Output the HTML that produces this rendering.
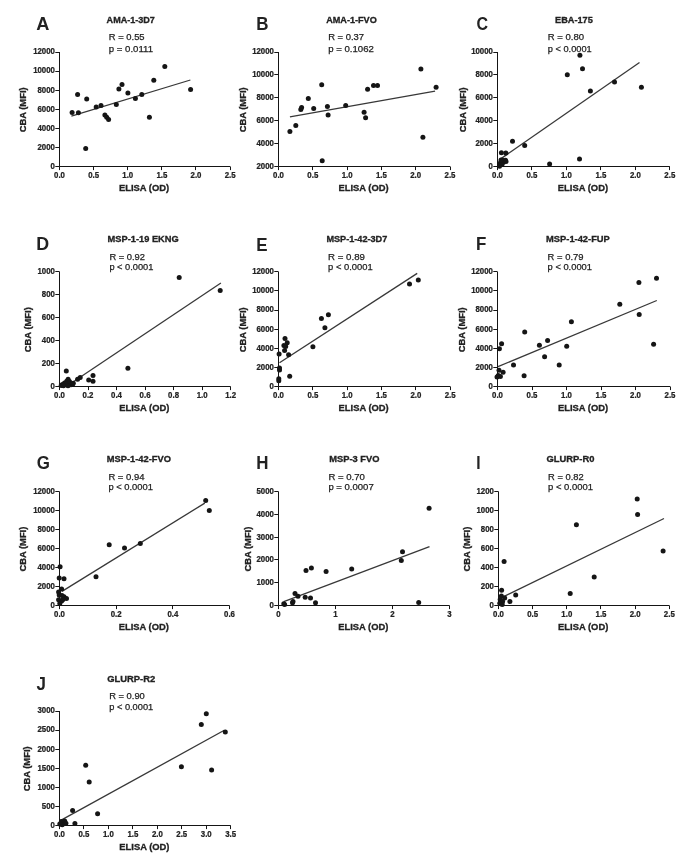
<!DOCTYPE html>
<html><head><meta charset="utf-8"><title>Figure</title>
<style>
html,body{margin:0;padding:0;background:#fff;}
body{width:685px;height:864px;overflow:hidden;}
svg{display:block;font-family:"Liberation Sans", sans-serif;will-change:transform;}
#wrap{width:685px;height:864px;}
.L{font-size:18.2px;font-weight:bold;fill:#222;}
.T{font-size:8.8px;font-weight:bold;fill:#222;stroke:#222;stroke-width:0.3px;}
.S{font-size:9.2px;fill:#222;stroke:#222;stroke-width:0.25px;}
.K{font-size:8.9px;font-weight:bold;fill:#222;stroke:#222;stroke-width:0.25px;}
.A{font-size:9.4px;font-weight:bold;fill:#222;stroke:#222;stroke-width:0.3px;}
.ax{fill:none;stroke:#151515;stroke-width:1.0;}
.rl{fill:none;stroke:#383838;stroke-width:1.3;}
.d circle{fill:#151515;}
</style></head>
<body>
<div id="wrap"><svg width="685" height="864" viewBox="0 0 685 864">
<rect width="685" height="864" fill="#fff"/>
<g><text transform="translate(36.3 30) scale(1.0 1)" class="L">A</text><text x="106.6" y="23" class="T" textLength="48.3" lengthAdjust="spacingAndGlyphs">AMA-1-3D7</text><text x="108.8" y="39.6" class="S" textLength="35.8" lengthAdjust="spacingAndGlyphs">R = 0.55</text><text x="108.8" y="51.5" class="S" textLength="44.2" lengthAdjust="spacingAndGlyphs">p = 0.0111</text><path d="M59.5 52V166.5H230.1" class="ax"/><path d="M55.3 166.5H59.5M55.3 147.5H59.5M55.3 128.5H59.5M55.3 109.5H59.5M55.3 90.5H59.5M55.3 71.5H59.5M55.3 52.5H59.5M59.5 166.5V170.1M93.5 166.5V170.1M127.5 166.5V170.1M161.5 166.5V170.1M195.5 166.5V170.1M230.5 166.5V170.1" class="ax"/><text transform="translate(54.9 168.9) scale(0.88 1)" class="K" text-anchor="end">0</text><text transform="translate(54.9 149.82) scale(0.88 1)" class="K" text-anchor="end">2000</text><text transform="translate(54.9 130.73) scale(0.88 1)" class="K" text-anchor="end">4000</text><text transform="translate(54.9 111.65) scale(0.88 1)" class="K" text-anchor="end">6000</text><text transform="translate(54.9 92.57) scale(0.88 1)" class="K" text-anchor="end">8000</text><text transform="translate(54.9 73.48) scale(0.88 1)" class="K" text-anchor="end">10000</text><text transform="translate(54.9 54.4) scale(0.88 1)" class="K" text-anchor="end">12000</text><text transform="translate(59.5 178) scale(0.88 1)" class="K" text-anchor="middle">0.0</text><text transform="translate(93.62 178) scale(0.88 1)" class="K" text-anchor="middle">0.5</text><text transform="translate(127.74 178) scale(0.88 1)" class="K" text-anchor="middle">1.0</text><text transform="translate(161.86 178) scale(0.88 1)" class="K" text-anchor="middle">1.5</text><text transform="translate(195.98 178) scale(0.88 1)" class="K" text-anchor="middle">2.0</text><text transform="translate(230.1 178) scale(0.88 1)" class="K" text-anchor="middle">2.5</text><text x="144.1" y="190.5" class="A" text-anchor="middle">ELISA (OD)</text><text transform="translate(26.4 109.85) rotate(-90)" class="A" text-anchor="middle">CBA (MFI)</text><path d="M71.4 116.1L190.4 80" class="rl"/><g class="d"><circle cx="72.1" cy="112.4" r="2.5"/><circle cx="77.6" cy="94.4" r="2.5"/><circle cx="78.4" cy="112.8" r="2.5"/><circle cx="86.7" cy="99" r="2.5"/><circle cx="85.7" cy="148.5" r="2.5"/><circle cx="96.2" cy="106.9" r="2.5"/><circle cx="101" cy="105.4" r="2.5"/><circle cx="104.9" cy="115" r="2.5"/><circle cx="106.7" cy="117.2" r="2.5"/><circle cx="108.6" cy="119.4" r="2.5"/><circle cx="116.3" cy="104.5" r="2.5"/><circle cx="118.9" cy="89" r="2.5"/><circle cx="122" cy="84.6" r="2.5"/><circle cx="127.9" cy="93.1" r="2.5"/><circle cx="135.4" cy="98.6" r="2.5"/><circle cx="141.8" cy="94.6" r="2.5"/><circle cx="149.4" cy="117.2" r="2.5"/><circle cx="153.8" cy="80.3" r="2.5"/><circle cx="164.8" cy="66.6" r="2.5"/><circle cx="190.6" cy="89.5" r="2.5"/></g></g>
<g><text transform="translate(256.32 29.8) scale(0.93 1)" class="L">B</text><text x="326.2" y="23.4" class="T" textLength="50.6" lengthAdjust="spacingAndGlyphs">AMA-1-FVO</text><text x="328.2" y="39.8" class="S" textLength="35.9" lengthAdjust="spacingAndGlyphs">R = 0.37</text><text x="328.2" y="51.6" class="S" textLength="45.7" lengthAdjust="spacingAndGlyphs">p = 0.1062</text><path d="M278.5 52V166.5H450" class="ax"/><path d="M274.3 166.5H278.5M274.3 143.5H278.5M274.3 120.5H278.5M274.3 97.5H278.5M274.3 74.5H278.5M274.3 52.5H278.5M278.5 166.5V170.1M312.5 166.5V170.1M347.5 166.5V170.1M381.5 166.5V170.1M415.5 166.5V170.1M450.5 166.5V170.1" class="ax"/><text transform="translate(273.9 168.9) scale(0.88 1)" class="K" text-anchor="end">2000</text><text transform="translate(273.9 146) scale(0.88 1)" class="K" text-anchor="end">4000</text><text transform="translate(273.9 123.1) scale(0.88 1)" class="K" text-anchor="end">6000</text><text transform="translate(273.9 100.2) scale(0.88 1)" class="K" text-anchor="end">8000</text><text transform="translate(273.9 77.3) scale(0.88 1)" class="K" text-anchor="end">10000</text><text transform="translate(273.9 54.4) scale(0.88 1)" class="K" text-anchor="end">12000</text><text transform="translate(278.5 178) scale(0.88 1)" class="K" text-anchor="middle">0.0</text><text transform="translate(312.8 178) scale(0.88 1)" class="K" text-anchor="middle">0.5</text><text transform="translate(347.1 178) scale(0.88 1)" class="K" text-anchor="middle">1.0</text><text transform="translate(381.4 178) scale(0.88 1)" class="K" text-anchor="middle">1.5</text><text transform="translate(415.7 178) scale(0.88 1)" class="K" text-anchor="middle">2.0</text><text transform="translate(450 178) scale(0.88 1)" class="K" text-anchor="middle">2.5</text><text x="363.55" y="190.5" class="A" text-anchor="middle">ELISA (OD)</text><text transform="translate(245.8 109.85) rotate(-90)" class="A" text-anchor="middle">CBA (MFI)</text><path d="M289.9 116.8L435.1 91.2" class="rl"/><g class="d"><circle cx="289.9" cy="131.4" r="2.5"/><circle cx="295.8" cy="125.5" r="2.5"/><circle cx="300.8" cy="109.4" r="2.5"/><circle cx="301.6" cy="107.4" r="2.5"/><circle cx="308.3" cy="98.4" r="2.5"/><circle cx="313.7" cy="108.4" r="2.5"/><circle cx="321.7" cy="84.8" r="2.5"/><circle cx="322.2" cy="160.7" r="2.5"/><circle cx="327.4" cy="106.4" r="2.5"/><circle cx="328.1" cy="115.1" r="2.5"/><circle cx="345.7" cy="105.6" r="2.5"/><circle cx="364.1" cy="112.3" r="2.5"/><circle cx="365.6" cy="117.8" r="2.5"/><circle cx="367.6" cy="89.3" r="2.5"/><circle cx="373.5" cy="85.5" r="2.5"/><circle cx="377.5" cy="85.5" r="2.5"/><circle cx="420.9" cy="69.1" r="2.5"/><circle cx="422.9" cy="137.2" r="2.5"/><circle cx="436.1" cy="87.3" r="2.5"/></g></g>
<g><text transform="translate(476.39 29.6) scale(0.88 1)" class="L">C</text><text x="555" y="23.4" class="T" textLength="37.8" lengthAdjust="spacingAndGlyphs">EBA-175</text><text x="547.8" y="39.8" class="S" textLength="36.3" lengthAdjust="spacingAndGlyphs">R = 0.80</text><text x="547.8" y="51.6" class="S" textLength="43.9" lengthAdjust="spacingAndGlyphs">p &lt; 0.0001</text><path d="M497.5 52V166.5H669.8" class="ax"/><path d="M493.3 166.5H497.5M493.3 143.5H497.5M493.3 120.5H497.5M493.3 97.5H497.5M493.3 74.5H497.5M493.3 52.5H497.5M497.5 166.5V170.1M531.5 166.5V170.1M566.5 166.5V170.1M600.5 166.5V170.1M635.5 166.5V170.1M669.5 166.5V170.1" class="ax"/><text transform="translate(492.9 168.9) scale(0.88 1)" class="K" text-anchor="end">0</text><text transform="translate(492.9 146) scale(0.88 1)" class="K" text-anchor="end">2000</text><text transform="translate(492.9 123.1) scale(0.88 1)" class="K" text-anchor="end">4000</text><text transform="translate(492.9 100.2) scale(0.88 1)" class="K" text-anchor="end">6000</text><text transform="translate(492.9 77.3) scale(0.88 1)" class="K" text-anchor="end">8000</text><text transform="translate(492.9 54.4) scale(0.88 1)" class="K" text-anchor="end">10000</text><text transform="translate(497.5 178) scale(0.88 1)" class="K" text-anchor="middle">0.0</text><text transform="translate(531.96 178) scale(0.88 1)" class="K" text-anchor="middle">0.5</text><text transform="translate(566.42 178) scale(0.88 1)" class="K" text-anchor="middle">1.0</text><text transform="translate(600.88 178) scale(0.88 1)" class="K" text-anchor="middle">1.5</text><text transform="translate(635.34 178) scale(0.88 1)" class="K" text-anchor="middle">2.0</text><text transform="translate(669.8 178) scale(0.88 1)" class="K" text-anchor="middle">2.5</text><text x="582.95" y="190.5" class="A" text-anchor="middle">ELISA (OD)</text><text transform="translate(465.6 109.85) rotate(-90)" class="A" text-anchor="middle">CBA (MFI)</text><path d="M501 158.6L639.5 62.5" class="rl"/><g class="d"><circle cx="579.9" cy="55.3" r="2.5"/><circle cx="582.5" cy="68.8" r="2.5"/><circle cx="567.3" cy="74.7" r="2.5"/><circle cx="614.5" cy="81.9" r="2.5"/><circle cx="641.4" cy="87.3" r="2.5"/><circle cx="590.4" cy="91" r="2.5"/><circle cx="512.5" cy="141.2" r="2.5"/><circle cx="524.7" cy="145.5" r="2.5"/><circle cx="501.4" cy="152.8" r="2.5"/><circle cx="505.8" cy="153.1" r="2.5"/><circle cx="579.5" cy="159" r="2.5"/><circle cx="549.6" cy="163.9" r="2.5"/><circle cx="502.5" cy="160.3" r="2.5"/><circle cx="505.5" cy="160.3" r="2.5"/><circle cx="500.5" cy="162.5" r="2.5"/><circle cx="503.5" cy="162.3" r="2.5"/><circle cx="499.8" cy="164.8" r="2.5"/><circle cx="502" cy="164.5" r="2.5"/><circle cx="499.5" cy="166.2" r="2.5"/><circle cx="501" cy="160" r="2.5"/><circle cx="506" cy="161.5" r="2.5"/></g></g>
<g><text transform="translate(36.26 250) scale(0.98 1)" class="L">D</text><text x="107.6" y="241.9" class="T" textLength="71.1" lengthAdjust="spacingAndGlyphs">MSP-1-19 EKNG</text><text x="109.4" y="259.6" class="S" textLength="35.6" lengthAdjust="spacingAndGlyphs">R = 0.92</text><text x="109.4" y="270.1" class="S" textLength="44" lengthAdjust="spacingAndGlyphs">p &lt; 0.0001</text><path d="M59.5 271.7V386.5H230.6" class="ax"/><path d="M55.3 386.5H59.5M55.3 363.5H59.5M55.3 340.5H59.5M55.3 317.5H59.5M55.3 294.5H59.5M55.3 271.5H59.5M59.5 386.5V390.1M88.5 386.5V390.1M116.5 386.5V390.1M145.5 386.5V390.1M173.5 386.5V390.1M202.5 386.5V390.1M230.5 386.5V390.1" class="ax"/><text transform="translate(54.9 388.9) scale(0.88 1)" class="K" text-anchor="end">0</text><text transform="translate(54.9 365.94) scale(0.88 1)" class="K" text-anchor="end">200</text><text transform="translate(54.9 342.98) scale(0.88 1)" class="K" text-anchor="end">400</text><text transform="translate(54.9 320.02) scale(0.88 1)" class="K" text-anchor="end">600</text><text transform="translate(54.9 297.06) scale(0.88 1)" class="K" text-anchor="end">800</text><text transform="translate(54.9 274.1) scale(0.88 1)" class="K" text-anchor="end">1000</text><text transform="translate(59.5 398) scale(0.88 1)" class="K" text-anchor="middle">0.0</text><text transform="translate(88.02 398) scale(0.88 1)" class="K" text-anchor="middle">0.2</text><text transform="translate(116.53 398) scale(0.88 1)" class="K" text-anchor="middle">0.4</text><text transform="translate(145.05 398) scale(0.88 1)" class="K" text-anchor="middle">0.6</text><text transform="translate(173.57 398) scale(0.88 1)" class="K" text-anchor="middle">0.8</text><text transform="translate(202.08 398) scale(0.88 1)" class="K" text-anchor="middle">1.0</text><text transform="translate(230.6 398) scale(0.88 1)" class="K" text-anchor="middle">1.2</text><text x="144.35" y="410.5" class="A" text-anchor="middle">ELISA (OD)</text><text transform="translate(30.7 329.7) rotate(-90)" class="A" text-anchor="middle">CBA (MFI)</text><path d="M67 386L220.9 283" class="rl"/><g class="d"><circle cx="179.2" cy="277.4" r="2.5"/><circle cx="220.2" cy="290.5" r="2.5"/><circle cx="127.9" cy="368.2" r="2.5"/><circle cx="66.3" cy="371.1" r="2.5"/><circle cx="93" cy="375.5" r="2.5"/><circle cx="80.2" cy="377.5" r="2.5"/><circle cx="77.6" cy="379.3" r="2.5"/><circle cx="88.7" cy="380.1" r="2.5"/><circle cx="93" cy="381.2" r="2.5"/><circle cx="68.1" cy="379.3" r="2.5"/><circle cx="66.7" cy="381.2" r="2.5"/><circle cx="64.5" cy="383" r="2.5"/><circle cx="62.3" cy="384.5" r="2.5"/><circle cx="69.6" cy="383.4" r="2.5"/><circle cx="72.5" cy="384.5" r="2.5"/><circle cx="61.2" cy="385.5" r="2.5"/><circle cx="66.5" cy="383.5" r="2.5"/><circle cx="69.5" cy="381.5" r="2.5"/><circle cx="71" cy="384.8" r="2.5"/><circle cx="63.5" cy="385.8" r="2.5"/><circle cx="68" cy="385.8" r="2.5"/><circle cx="73.3" cy="383.3" r="2.5"/></g></g>
<g><text transform="translate(256.32 250.9) scale(0.93 1)" class="L">E</text><text x="326.4" y="241.9" class="T" textLength="60.9" lengthAdjust="spacingAndGlyphs">MSP-1-42-3D7</text><text x="328.1" y="259.8" class="S" textLength="36.8" lengthAdjust="spacingAndGlyphs">R = 0.89</text><text x="328.1" y="270.1" class="S" textLength="44.6" lengthAdjust="spacingAndGlyphs">p &lt; 0.0001</text><path d="M278.5 271.8V386.5H450.2" class="ax"/><path d="M274.3 386.5H278.5M274.3 367.5H278.5M274.3 348.5H278.5M274.3 329.5H278.5M274.3 310.5H278.5M274.3 290.5H278.5M274.3 271.5H278.5M278.5 386.5V390.1M312.5 386.5V390.1M347.5 386.5V390.1M381.5 386.5V390.1M415.5 386.5V390.1M450.5 386.5V390.1" class="ax"/><text transform="translate(273.9 388.9) scale(0.88 1)" class="K" text-anchor="end">0</text><text transform="translate(273.9 369.78) scale(0.88 1)" class="K" text-anchor="end">2000</text><text transform="translate(273.9 350.67) scale(0.88 1)" class="K" text-anchor="end">4000</text><text transform="translate(273.9 331.55) scale(0.88 1)" class="K" text-anchor="end">6000</text><text transform="translate(273.9 312.43) scale(0.88 1)" class="K" text-anchor="end">8000</text><text transform="translate(273.9 293.32) scale(0.88 1)" class="K" text-anchor="end">10000</text><text transform="translate(273.9 274.2) scale(0.88 1)" class="K" text-anchor="end">12000</text><text transform="translate(278.5 398) scale(0.88 1)" class="K" text-anchor="middle">0.0</text><text transform="translate(312.84 398) scale(0.88 1)" class="K" text-anchor="middle">0.5</text><text transform="translate(347.18 398) scale(0.88 1)" class="K" text-anchor="middle">1.0</text><text transform="translate(381.52 398) scale(0.88 1)" class="K" text-anchor="middle">1.5</text><text transform="translate(415.86 398) scale(0.88 1)" class="K" text-anchor="middle">2.0</text><text transform="translate(450.2 398) scale(0.88 1)" class="K" text-anchor="middle">2.5</text><text x="363.65" y="410.5" class="A" text-anchor="middle">ELISA (OD)</text><text transform="translate(245.8 329.75) rotate(-90)" class="A" text-anchor="middle">CBA (MFI)</text><path d="M279.5 362.8L417.2 273.4" class="rl"/><g class="d"><circle cx="418.3" cy="280" r="2.5"/><circle cx="409.5" cy="283.9" r="2.5"/><circle cx="328.4" cy="314.8" r="2.5"/><circle cx="321.4" cy="318.5" r="2.5"/><circle cx="324.9" cy="327.8" r="2.5"/><circle cx="312.9" cy="346.7" r="2.5"/><circle cx="285" cy="338.4" r="2.5"/><circle cx="287.2" cy="342.8" r="2.5"/><circle cx="283.9" cy="345.5" r="2.5"/><circle cx="285.7" cy="346.4" r="2.5"/><circle cx="284.6" cy="350.6" r="2.5"/><circle cx="279.1" cy="354.1" r="2.5"/><circle cx="288.6" cy="354.8" r="2.5"/><circle cx="279.5" cy="368" r="2.5"/><circle cx="279.5" cy="370.1" r="2.5"/><circle cx="289.7" cy="376.2" r="2.5"/><circle cx="278.8" cy="378.8" r="2.5"/><circle cx="278.8" cy="380.7" r="2.5"/></g></g>
<g><text transform="translate(476.12 250) scale(0.93 1)" class="L">F</text><text x="546.1" y="241.9" class="T" textLength="63.7" lengthAdjust="spacingAndGlyphs">MSP-1-42-FUP</text><text x="547.6" y="259.8" class="S" textLength="35.9" lengthAdjust="spacingAndGlyphs">R = 0.79</text><text x="547.6" y="270.1" class="S" textLength="44.4" lengthAdjust="spacingAndGlyphs">p &lt; 0.0001</text><path d="M497.5 271.8V386.5H670" class="ax"/><path d="M493.3 386.5H497.5M493.3 367.5H497.5M493.3 348.5H497.5M493.3 329.5H497.5M493.3 310.5H497.5M493.3 290.5H497.5M493.3 271.5H497.5M497.5 386.5V390.1M532.5 386.5V390.1M566.5 386.5V390.1M601.5 386.5V390.1M635.5 386.5V390.1M670.5 386.5V390.1" class="ax"/><text transform="translate(492.9 388.9) scale(0.88 1)" class="K" text-anchor="end">0</text><text transform="translate(492.9 369.78) scale(0.88 1)" class="K" text-anchor="end">2000</text><text transform="translate(492.9 350.67) scale(0.88 1)" class="K" text-anchor="end">4000</text><text transform="translate(492.9 331.55) scale(0.88 1)" class="K" text-anchor="end">6000</text><text transform="translate(492.9 312.43) scale(0.88 1)" class="K" text-anchor="end">8000</text><text transform="translate(492.9 293.32) scale(0.88 1)" class="K" text-anchor="end">10000</text><text transform="translate(492.9 274.2) scale(0.88 1)" class="K" text-anchor="end">12000</text><text transform="translate(497.5 398) scale(0.88 1)" class="K" text-anchor="middle">0.0</text><text transform="translate(532 398) scale(0.88 1)" class="K" text-anchor="middle">0.5</text><text transform="translate(566.5 398) scale(0.88 1)" class="K" text-anchor="middle">1.0</text><text transform="translate(601 398) scale(0.88 1)" class="K" text-anchor="middle">1.5</text><text transform="translate(635.5 398) scale(0.88 1)" class="K" text-anchor="middle">2.0</text><text transform="translate(670 398) scale(0.88 1)" class="K" text-anchor="middle">2.5</text><text x="583.05" y="410.5" class="A" text-anchor="middle">ELISA (OD)</text><text transform="translate(465 329.75) rotate(-90)" class="A" text-anchor="middle">CBA (MFI)</text><path d="M498 366.6L656.8 300.5" class="rl"/><g class="d"><circle cx="656.5" cy="278.2" r="2.5"/><circle cx="638.9" cy="282.4" r="2.5"/><circle cx="619.8" cy="304.2" r="2.5"/><circle cx="639.2" cy="314.4" r="2.5"/><circle cx="571.4" cy="321.8" r="2.5"/><circle cx="524.7" cy="332" r="2.5"/><circle cx="547.6" cy="340.5" r="2.5"/><circle cx="539.4" cy="345.2" r="2.5"/><circle cx="566.7" cy="346.2" r="2.5"/><circle cx="653.6" cy="344.2" r="2.5"/><circle cx="501.6" cy="343.7" r="2.5"/><circle cx="499.4" cy="348.7" r="2.5"/><circle cx="544.6" cy="356.8" r="2.5"/><circle cx="513.5" cy="364.9" r="2.5"/><circle cx="559.2" cy="365" r="2.5"/><circle cx="499" cy="370.2" r="2.5"/><circle cx="503.1" cy="372.3" r="2.5"/><circle cx="498.3" cy="375.4" r="2.5"/><circle cx="500.4" cy="376.5" r="2.5"/><circle cx="497" cy="376.9" r="2.5"/><circle cx="524.1" cy="375.8" r="2.5"/></g></g>
<g><text transform="translate(36.76 468.9) scale(0.93 1)" class="L">G</text><text x="106.8" y="461.9" class="T" textLength="64.1" lengthAdjust="spacingAndGlyphs">MSP-1-42-FVO</text><text x="108.4" y="479.8" class="S" textLength="36.1" lengthAdjust="spacingAndGlyphs">R = 0.94</text><text x="108.4" y="490.3" class="S" textLength="44.6" lengthAdjust="spacingAndGlyphs">p &lt; 0.0001</text><path d="M59.5 491.6V605.5H229.5" class="ax"/><path d="M55.3 605.5H59.5M55.3 586.5H59.5M55.3 567.5H59.5M55.3 548.5H59.5M55.3 529.5H59.5M55.3 510.5H59.5M55.3 491.5H59.5M59.5 605.5V609.1M116.5 605.5V609.1M172.5 605.5V609.1M229.5 605.5V609.1" class="ax"/><text transform="translate(54.9 607.9) scale(0.88 1)" class="K" text-anchor="end">0</text><text transform="translate(54.9 588.92) scale(0.88 1)" class="K" text-anchor="end">2000</text><text transform="translate(54.9 569.93) scale(0.88 1)" class="K" text-anchor="end">4000</text><text transform="translate(54.9 550.95) scale(0.88 1)" class="K" text-anchor="end">6000</text><text transform="translate(54.9 531.97) scale(0.88 1)" class="K" text-anchor="end">8000</text><text transform="translate(54.9 512.98) scale(0.88 1)" class="K" text-anchor="end">10000</text><text transform="translate(54.9 494) scale(0.88 1)" class="K" text-anchor="end">12000</text><text transform="translate(59.5 617) scale(0.88 1)" class="K" text-anchor="middle">0.0</text><text transform="translate(116.17 617) scale(0.88 1)" class="K" text-anchor="middle">0.2</text><text transform="translate(172.83 617) scale(0.88 1)" class="K" text-anchor="middle">0.4</text><text transform="translate(229.5 617) scale(0.88 1)" class="K" text-anchor="middle">0.6</text><text x="143.8" y="629.5" class="A" text-anchor="middle">ELISA (OD)</text><text transform="translate(26.4 549.15) rotate(-90)" class="A" text-anchor="middle">CBA (MFI)</text><path d="M62 591.4L204.8 503.1" class="rl"/><g class="d"><circle cx="205.7" cy="500.4" r="2.5"/><circle cx="209.3" cy="510.5" r="2.5"/><circle cx="140.3" cy="543.6" r="2.5"/><circle cx="124.5" cy="547.9" r="2.5"/><circle cx="109.2" cy="544.8" r="2.5"/><circle cx="96" cy="576.8" r="2.5"/><circle cx="60.1" cy="566.7" r="2.5"/><circle cx="59.2" cy="578.1" r="2.5"/><circle cx="64" cy="578.7" r="2.5"/><circle cx="61.6" cy="588.9" r="2.5"/><circle cx="58.6" cy="591.9" r="2.5"/><circle cx="59.2" cy="594.9" r="2.5"/><circle cx="64" cy="596.7" r="2.5"/><circle cx="66.5" cy="598.6" r="2.5"/><circle cx="58.6" cy="599.8" r="2.5"/><circle cx="61.6" cy="601" r="2.5"/><circle cx="59.8" cy="603.4" r="2.5"/><circle cx="62" cy="595.5" r="2.5"/><circle cx="63" cy="599.5" r="2.5"/></g></g>
<g><text transform="translate(256.32 469.1) scale(0.93 1)" class="L">H</text><text x="329.3" y="461.9" class="T" textLength="50.2" lengthAdjust="spacingAndGlyphs">MSP-3 FVO</text><text x="328.4" y="479.8" class="S" textLength="36.5" lengthAdjust="spacingAndGlyphs">R = 0.70</text><text x="328.4" y="490.3" class="S" textLength="45.3" lengthAdjust="spacingAndGlyphs">p = 0.0007</text><path d="M278.5 491.6V605.5H449.5" class="ax"/><path d="M274.3 605.5H278.5M274.3 582.5H278.5M274.3 559.5H278.5M274.3 537.5H278.5M274.3 514.5H278.5M274.3 491.5H278.5M278.5 605.5V609.1M335.5 605.5V609.1M392.5 605.5V609.1M449.5 605.5V609.1" class="ax"/><text transform="translate(273.9 607.9) scale(0.88 1)" class="K" text-anchor="end">0</text><text transform="translate(273.9 585.12) scale(0.88 1)" class="K" text-anchor="end">1000</text><text transform="translate(273.9 562.34) scale(0.88 1)" class="K" text-anchor="end">2000</text><text transform="translate(273.9 539.56) scale(0.88 1)" class="K" text-anchor="end">3000</text><text transform="translate(273.9 516.78) scale(0.88 1)" class="K" text-anchor="end">4000</text><text transform="translate(273.9 494) scale(0.88 1)" class="K" text-anchor="end">5000</text><text transform="translate(278.5 617) scale(0.88 1)" class="K" text-anchor="middle">0</text><text transform="translate(335.5 617) scale(0.88 1)" class="K" text-anchor="middle">1</text><text transform="translate(392.5 617) scale(0.88 1)" class="K" text-anchor="middle">2</text><text transform="translate(449.5 617) scale(0.88 1)" class="K" text-anchor="middle">3</text><text x="363.3" y="629.5" class="A" text-anchor="middle">ELISA (OD)</text><text transform="translate(250.6 549.15) rotate(-90)" class="A" text-anchor="middle">CBA (MFI)</text><path d="M283.8 601.7L429.5 546.7" class="rl"/><g class="d"><circle cx="429.1" cy="508.3" r="2.5"/><circle cx="402.5" cy="551.8" r="2.5"/><circle cx="401.3" cy="560.5" r="2.5"/><circle cx="351.7" cy="569.1" r="2.5"/><circle cx="326.1" cy="571.4" r="2.5"/><circle cx="311.4" cy="568.1" r="2.5"/><circle cx="306" cy="570.6" r="2.5"/><circle cx="295" cy="593.6" r="2.5"/><circle cx="298" cy="596.3" r="2.5"/><circle cx="305.2" cy="597.3" r="2.5"/><circle cx="310.5" cy="598" r="2.5"/><circle cx="293" cy="601.5" r="2.5"/><circle cx="292.5" cy="602.8" r="2.5"/><circle cx="315.5" cy="602.8" r="2.5"/><circle cx="283.8" cy="603.7" r="2.5"/><circle cx="284.6" cy="604.6" r="2.5"/><circle cx="418.7" cy="602.6" r="2.5"/></g></g>
<g><text transform="translate(476.22 469.1) scale(0.85 1)" class="L">I</text><text x="546.4" y="461.9" class="T" textLength="48" lengthAdjust="spacingAndGlyphs">GLURP-R0</text><text x="548.1" y="479.8" class="S" textLength="35.6" lengthAdjust="spacingAndGlyphs">R = 0.82</text><text x="548.1" y="490.3" class="S" textLength="44.9" lengthAdjust="spacingAndGlyphs">p &lt; 0.0001</text><path d="M498.5 491.6V605.5H669.3" class="ax"/><path d="M494.3 605.5H498.5M494.3 586.5H498.5M494.3 567.5H498.5M494.3 548.5H498.5M494.3 529.5H498.5M494.3 510.5H498.5M494.3 491.5H498.5M498.5 605.5V609.1M532.5 605.5V609.1M566.5 605.5V609.1M600.5 605.5V609.1M635.5 605.5V609.1M669.5 605.5V609.1" class="ax"/><text transform="translate(493.9 607.9) scale(0.88 1)" class="K" text-anchor="end">0</text><text transform="translate(493.9 588.92) scale(0.88 1)" class="K" text-anchor="end">200</text><text transform="translate(493.9 569.93) scale(0.88 1)" class="K" text-anchor="end">400</text><text transform="translate(493.9 550.95) scale(0.88 1)" class="K" text-anchor="end">600</text><text transform="translate(493.9 531.97) scale(0.88 1)" class="K" text-anchor="end">800</text><text transform="translate(493.9 512.98) scale(0.88 1)" class="K" text-anchor="end">1000</text><text transform="translate(493.9 494) scale(0.88 1)" class="K" text-anchor="end">1200</text><text transform="translate(498.5 617) scale(0.88 1)" class="K" text-anchor="middle">0.0</text><text transform="translate(532.66 617) scale(0.88 1)" class="K" text-anchor="middle">0.5</text><text transform="translate(566.82 617) scale(0.88 1)" class="K" text-anchor="middle">1.0</text><text transform="translate(600.98 617) scale(0.88 1)" class="K" text-anchor="middle">1.5</text><text transform="translate(635.14 617) scale(0.88 1)" class="K" text-anchor="middle">2.0</text><text transform="translate(669.3 617) scale(0.88 1)" class="K" text-anchor="middle">2.5</text><text x="583.2" y="629.5" class="A" text-anchor="middle">ELISA (OD)</text><text transform="translate(470.2 549.15) rotate(-90)" class="A" text-anchor="middle">CBA (MFI)</text><path d="M500 598.4L664 518.5" class="rl"/><g class="d"><circle cx="637.2" cy="499.1" r="2.5"/><circle cx="637.6" cy="514.4" r="2.5"/><circle cx="576.4" cy="524.7" r="2.5"/><circle cx="504.1" cy="561.4" r="2.5"/><circle cx="594.2" cy="577.1" r="2.5"/><circle cx="570.2" cy="593.5" r="2.5"/><circle cx="515.7" cy="595.1" r="2.5"/><circle cx="509.9" cy="601.6" r="2.5"/><circle cx="663.1" cy="550.9" r="2.5"/><circle cx="501.6" cy="590.3" r="2.5"/><circle cx="501.4" cy="595.9" r="2.5"/><circle cx="504.7" cy="597.9" r="2.5"/><circle cx="500.2" cy="599.5" r="2.5"/><circle cx="502.6" cy="601.6" r="2.5"/><circle cx="499.8" cy="603.2" r="2.5"/><circle cx="502.2" cy="604.4" r="2.5"/></g></g>
<g><text transform="translate(36.39 689.6) scale(0.93 1)" class="L">J</text><text x="107.2" y="682.3" class="T" textLength="48.1" lengthAdjust="spacingAndGlyphs">GLURP-R2</text><text x="109.2" y="699.2" class="S" textLength="35.6" lengthAdjust="spacingAndGlyphs">R = 0.90</text><text x="109.2" y="710.4" class="S" textLength="44" lengthAdjust="spacingAndGlyphs">p &lt; 0.0001</text><path d="M59.5 711V825.5H230.7" class="ax"/><path d="M55.3 825.5H59.5M55.3 806.5H59.5M55.3 787.5H59.5M55.3 768.5H59.5M55.3 749.5H59.5M55.3 730.5H59.5M55.3 711.5H59.5M59.5 825.5V829.1M83.5 825.5V829.1M108.5 825.5V829.1M132.5 825.5V829.1M157.5 825.5V829.1M181.5 825.5V829.1M206.5 825.5V829.1M230.5 825.5V829.1" class="ax"/><text transform="translate(54.9 827.9) scale(0.88 1)" class="K" text-anchor="end">0</text><text transform="translate(54.9 808.82) scale(0.88 1)" class="K" text-anchor="end">500</text><text transform="translate(54.9 789.73) scale(0.88 1)" class="K" text-anchor="end">1000</text><text transform="translate(54.9 770.65) scale(0.88 1)" class="K" text-anchor="end">1500</text><text transform="translate(54.9 751.57) scale(0.88 1)" class="K" text-anchor="end">2000</text><text transform="translate(54.9 732.48) scale(0.88 1)" class="K" text-anchor="end">2500</text><text transform="translate(54.9 713.4) scale(0.88 1)" class="K" text-anchor="end">3000</text><text transform="translate(59.5 837) scale(0.88 1)" class="K" text-anchor="middle">0.0</text><text transform="translate(83.96 837) scale(0.88 1)" class="K" text-anchor="middle">0.5</text><text transform="translate(108.41 837) scale(0.88 1)" class="K" text-anchor="middle">1.0</text><text transform="translate(132.87 837) scale(0.88 1)" class="K" text-anchor="middle">1.5</text><text transform="translate(157.33 837) scale(0.88 1)" class="K" text-anchor="middle">2.0</text><text transform="translate(181.79 837) scale(0.88 1)" class="K" text-anchor="middle">2.5</text><text transform="translate(206.24 837) scale(0.88 1)" class="K" text-anchor="middle">3.0</text><text transform="translate(230.7 837) scale(0.88 1)" class="K" text-anchor="middle">3.5</text><text x="144.4" y="849.5" class="A" text-anchor="middle">ELISA (OD)</text><text transform="translate(30.3 768.85) rotate(-90)" class="A" text-anchor="middle">CBA (MFI)</text><path d="M59.8 820.9L224.3 730.3" class="rl"/><g class="d"><circle cx="206.3" cy="713.7" r="2.5"/><circle cx="201.3" cy="724.4" r="2.5"/><circle cx="225.3" cy="732.1" r="2.5"/><circle cx="85.7" cy="765.2" r="2.5"/><circle cx="181.4" cy="766.7" r="2.5"/><circle cx="211.6" cy="769.9" r="2.5"/><circle cx="89.2" cy="782" r="2.5"/><circle cx="72.6" cy="810.5" r="2.5"/><circle cx="97.6" cy="813.8" r="2.5"/><circle cx="74.9" cy="823.6" r="2.5"/><circle cx="61.4" cy="821.5" r="2.5"/><circle cx="64.7" cy="821.1" r="2.5"/><circle cx="62.2" cy="824.8" r="2.5"/><circle cx="65.9" cy="823.2" r="2.5"/><circle cx="59.8" cy="824" r="2.5"/></g></g>
</svg></div>
</body></html>
